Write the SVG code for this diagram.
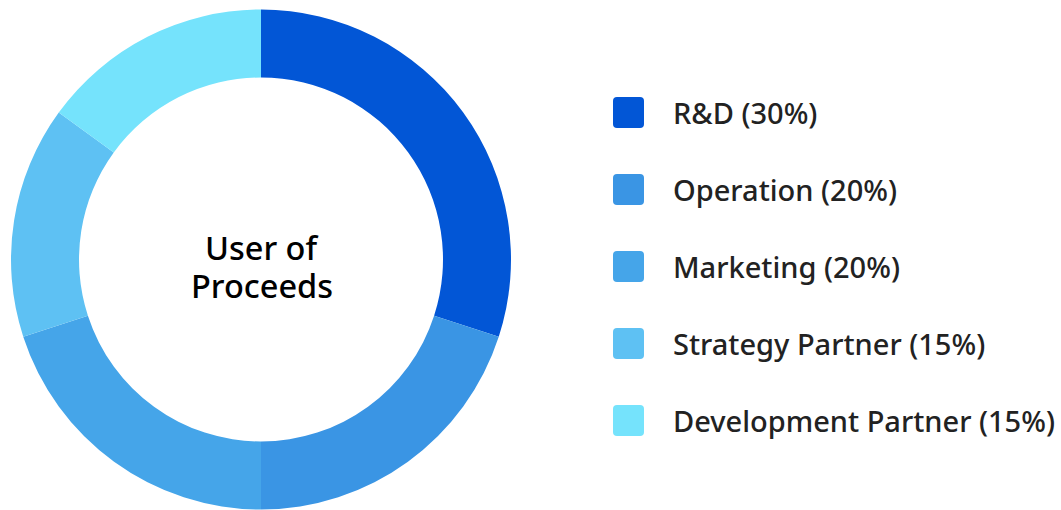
<svg xmlns="http://www.w3.org/2000/svg" width="1061" height="510" viewBox="0 0 1061 510">
<style>
.lbl{font-family:"Noto Sans","Noto Sans CJK KR",sans-serif;font-weight:500;font-size:29px;fill:#222222}
.ctr{font-family:"Noto Sans","Noto Sans CJK KR",sans-serif;font-weight:500;font-size:32.5px;fill:#000000;text-anchor:middle}
</style>
<rect width="1061" height="510" fill="#ffffff"/>
<g id="donut">
<path id="seg-rnd" fill="#0256D6" d="M261,9.5 A250,250 0 0 1 498.76,336.76 L434.09,315.74 A182,182 0 0 0 261,77.5 Z"/>
<path id="seg-operation" fill="#3A95E4" d="M498.76,336.76 A250,250 0 0 1 261,509.5 L261,441.5 A182,182 0 0 0 434.09,315.74 Z"/>
<path id="seg-marketing" fill="#45A5E9" d="M261,509.5 A250,250 0 0 1 23.24,336.76 L87.91,315.74 A182,182 0 0 0 261,441.5 Z"/>
<path id="seg-strategy" fill="#5EC1F3" d="M23.24,336.76 A250,250 0 0 1 58.75,112.55 L113.77,152.52 A182,182 0 0 0 87.91,315.74 Z"/>
<path id="seg-development" fill="#75E3FC" d="M58.75,112.55 A250,250 0 0 1 261,9.5 L261,77.5 A182,182 0 0 0 113.77,152.52 Z"/>
</g>
<g id="center-label">
<text class="ctr" x="261" y="260">User of</text>
<text class="ctr" x="262" y="297.5">Proceeds</text>
</g>
<g id="legend-rnd">
<rect x="613" y="97" width="31" height="31" rx="4" fill="#0256D6"/>
<text class="lbl" x="673" y="123.5">R&amp;D (30%)</text>
</g>
<g id="legend-operation">
<rect x="613" y="174" width="31" height="31" rx="4" fill="#3A95E4"/>
<text class="lbl" x="673" y="200.5">Operation (20%)</text>
</g>
<g id="legend-marketing">
<rect x="613" y="251" width="31" height="31" rx="4" fill="#45A5E9"/>
<text class="lbl" x="673" y="277.5">Marketing (20%)</text>
</g>
<g id="legend-strategy">
<rect x="613" y="328" width="31" height="31" rx="4" fill="#5EC1F3"/>
<text class="lbl" x="673" y="354.5">Strategy Partner (15%)</text>
</g>
<g id="legend-development">
<rect x="613" y="405" width="31" height="31" rx="4" fill="#75E3FC"/>
<text class="lbl" x="673" y="431.5">Development Partner (15%)</text>
</g>
<g id="connectors"></g>
</svg>
